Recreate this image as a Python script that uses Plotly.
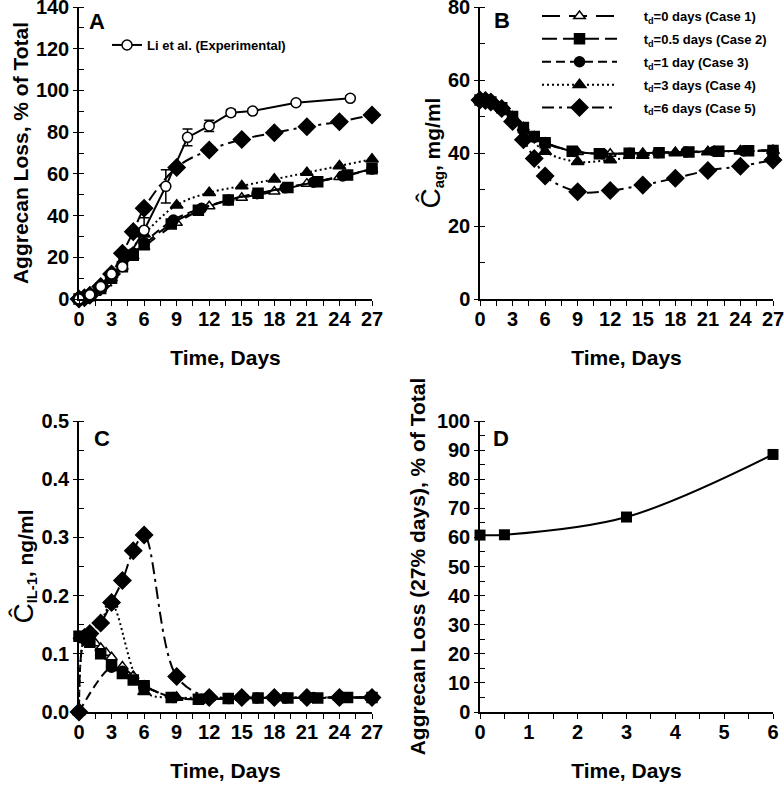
import plotly.graph_objects as go

# ---- Panel A: experimental data (Li et al.)
li_t = [0, 1, 2, 3, 4, 6, 8, 10, 12, 14, 16, 20, 25]
li_loss = [0, 2, 6, 12, 15.5, 33, 54, 77.5, 83, 89.3, 90.1, 94.1, 96.2]
li_err = [0.5, 0.8, 1, 1.5, 2, 6, 8, 4, 2.7, 1.5, 1, 1, 1]

# ---- model cases: time points
case1_t = [0, 0.5, 1, 1.5, 2, 2.5, 3, 4, 5, 6, 9, 12, 15, 18, 21, 24, 27]
case2_t = [0, 0.5, 1, 2, 3, 4, 5, 6, 8.5, 11, 13.75, 16.5, 19.25, 22, 24.75, 27]
case3_t = [0, 0.5, 1, 2, 3, 4, 5, 6, 8.7, 11.3, 13.8, 16.4, 19, 21.6, 24.3, 27]
case4_t = [0, 0.5, 1, 2, 3, 6, 9, 12, 15, 18, 21, 24, 27]
case5_t = [0, 0.5, 1, 2, 3, 4, 5, 6, 9, 12, 15, 18, 21, 24, 27]
case3_t_il = [0, 3, 4, 6, 8.7, 11.3, 13.8, 16.4, 19, 21.6, 24.3, 27]

# aggrecan loss, % of total (panel A)
case1_loss = [0, 0.5, 1.5, 3, 5, 7.5, 10, 15.5, 20.5, 25, 36.5, 44.5, 48.5, 51.5, 55.3, 58.5, 62]
case2_loss = [0, 0.5, 1.5, 5, 10, 15.5, 21, 26, 36, 42.5, 47.5, 50.7, 53.5, 56.2, 59.4, 62.5]
case3_loss = [0, 0.6, 1.7, 5.5, 11, 16.5, 22, 27, 37.9, 43.5, 47.5, 50.5, 53.3, 56, 59, 62.3]
case4_loss = [0, 0.6, 1.8, 6, 11.5, 31, 45, 51, 54.2, 57.4, 60.6, 63.8, 67]
case5_loss = [0, 0.6, 1.8, 6, 12, 21.9, 32.3, 43.5, 63.1, 71.4, 76.5, 79.7, 82.6, 85, 88.2]

# aggrecan concentration, mg/ml (panel B)
case1_ag = [54.5, 54.4, 54, 53.3, 52.4, 51.2, 50, 47, 44.5, 42.8, 40.3, 39.8, 40, 40.2, 40.4, 40.6, 40.7]
case2_ag = [54.5, 54.4, 54, 52.4, 50, 47, 44.5, 42.8, 40.5, 39.8, 39.9, 40.1, 40.3, 40.5, 40.6, 40.7]
case3_ag = [54.5, 54.4, 54, 52.3, 49.5, 46.5, 44.3, 42.7, 40.4, 39.8, 39.9, 40.1, 40.3, 40.5, 40.6, 40.7]
case4_ag = [54.5, 54.4, 54, 52.2, 49.5, 40.4, 37.6, 38.1, 39.3, 40, 40.3, 40.5, 40.6]
case5_ag = [54.5, 54.4, 54, 52.2, 48.6, 43.6, 38.5, 33.7, 29.4, 29.7, 31.2, 33.1, 35.2, 36.4, 38.1]

# IL-1 concentration, ng/ml (panel C)
case1_il = [0.13, 0.13, 0.125, 0.118, 0.11, 0.102, 0.094, 0.078, 0.062, 0.045, 0.025, 0.024, 0.024, 0.024, 0.025, 0.025, 0.025]
case2_il = [0.13, 0.128, 0.12, 0.1, 0.08, 0.066, 0.055, 0.045, 0.025, 0.022, 0.023, 0.024, 0.024, 0.024, 0.025, 0.025]
case3_il = [0, 0.077, 0.07, 0.045, 0.025, 0.022, 0.023, 0.024, 0.024, 0.025, 0.025, 0.025]
case4_il = [0, 0.128, 0.135, 0.155, 0.185, 0.035, 0.025, 0.025, 0.025, 0.025, 0.025, 0.025, 0.025]
case5_il = [0, 0.128, 0.135, 0.153, 0.188, 0.226, 0.277, 0.304, 0.061, 0.025, 0.025, 0.025, 0.025, 0.025, 0.025]

# ---- Panel D
d_td = [0, 0.5, 3, 6]
d_loss = [60.8, 60.9, 67.0, 88.5]

case_names = [
    "t<sub>d</sub>=0 days (Case 1)",
    "t<sub>d</sub>=0.5 days (Case 2)",
    "t<sub>d</sub>=1 day (Case 3)",
    "t<sub>d</sub>=3 days (Case 4)",
    "t<sub>d</sub>=6 days (Case 5)",
]

FONT = "Liberation Sans, Arial, sans-serif"
dashes = ["18px,9px", "15px,6px", "9px,5px", "2px,3px", "12px,5px,3px,5px"]
symbols = ["triangle-up", "square", "circle", "triangle-up", "diamond"]
fills = ["white", "black", "black", "black", "black"]
msizes = [10, 10, 10, 11, 13]

times = [case1_t, case2_t, case3_t, case4_t, case5_t]
times_il = [case1_t, case2_t, case3_t_il, case4_t, case5_t]
losses = [case1_loss, case2_loss, case3_loss, case4_loss, case5_loss]
ags = [case1_ag, case2_ag, case3_ag, case4_ag, case5_ag]
ils = [case1_il, case2_il, case3_il, case4_il, case5_il]

fig = go.Figure()

pad = "\u00a0" * 6


def add_case(i, x, y, xa, ya, show):
    fig.add_trace(go.Scatter(
        x=x, y=y, mode="lines+markers", name=pad + case_names[i],
        xaxis=xa, yaxis=ya, cliponaxis=False, legendgroup="c%d" % i,
        line=dict(color="black", width=2, dash=dashes[i], shape="spline"),
        marker=dict(symbol=symbols[i], size=msizes[i], color=fills[i],
                    line=dict(color="black", width=1.5)),
        showlegend=show, legend="legend2",
    ))


for i in range(5):
    add_case(i, times[i], losses[i], "x", "y", False)
for i in range(5):
    add_case(i, times[i], ags[i], "x2", "y2", True)
for i in range(5):
    add_case(i, times_il[i], ils[i], "x3", "y3", False)

fig.add_trace(go.Scatter(
    x=li_t, y=li_loss, mode="lines+markers", name="Li et al. (Experimental)",
    xaxis="x", yaxis="y", cliponaxis=False, legend="legend",
    line=dict(color="black", width=2),
    marker=dict(symbol="circle", size=10, color="white", line=dict(color="black", width=1.5)),
    error_y=dict(type="data", array=li_err, color="black", thickness=1.5, width=5),
))

fig.add_trace(go.Scatter(
    x=d_td, y=d_loss, mode="lines+markers", showlegend=False,
    xaxis="x4", yaxis="y4", cliponaxis=False,
    line=dict(color="black", width=2, shape="spline"),
    marker=dict(symbol="square", size=11, color="black"),
))

tickfont = dict(family=FONT, size=20, color="black", weight="bold")
titlefont = dict(family=FONT, size=21, color="black", weight="bold")


def xax(dom, rng, dt, anchor):
    return dict(domain=dom, range=rng, anchor=anchor, dtick=dt, tick0=0,
                showline=True, linecolor="black", linewidth=1.5,
                ticks="outside", ticklen=5, tickwidth=1, tickcolor="black",
                minor=dict(dtick=dt / 2, ticks="outside", ticklen=5, tickcolor="black"),
                showgrid=False, zeroline=False, tickfont=tickfont, ticklabelstandoff=-4,
                ticklabeloverflow="allow",
                title=dict(text="Time, Days", font=titlefont, standoff=22))


def yax(dom, rng, dt, anchor, title, fmt=None, standoff=2):
    d = dict(domain=dom, range=rng, anchor=anchor, dtick=dt, tick0=0,
             showline=True, linecolor="black", linewidth=1.5,
             ticks="outside", ticklen=4, tickwidth=1, tickcolor="black",
             minor=dict(dtick=dt / 2, ticks="inside", ticklen=5, tickcolor="black"),
             showgrid=False, zeroline=False, tickfont=tickfont, ticklabeloverflow="allow",
             title=dict(text=title, font=titlefont, standoff=standoff))
    if fmt:
        d["tickformat"] = fmt
    return d


left = [79 / 784, 372 / 784]
right = [480 / 784, 773 / 784]
top = [1 - 299 / 787, 1 - 7 / 787]
bot = [1 - 712 / 787, 1 - 421 / 787]

chat = '<span style="font-size:28px;font-weight:normal">Ĉ</span>'

fig.update_layout(
    width=784, height=787, margin=dict(l=0, r=0, t=0, b=0, autoexpand=False),
    paper_bgcolor="white", plot_bgcolor="white",
    font=dict(family=FONT, color="black"),
    xaxis=xax(left, [0, 27], 3, "y"),
    yaxis=yax(top, [0, 140], 20, "x", "Aggrecan Loss, % of Total"),
    xaxis2=xax(right, [0, 27], 3, "y2"),
    yaxis2=yax(top, [0, 80], 20, "x2", chat + "<sub>ag</sub>, mg/ml"),
    xaxis3=xax(left, [0, 27], 3, "y3"),
    yaxis3=yax(bot, [0, 0.5], 0.1, "x3", chat + "<sub>IL-1</sub>, ng/ml", fmt=".1f"),
    xaxis4=xax(right, [0, 6], 1, "y4"),
    yaxis4=yax(bot, [0, 100], 10, "x4", "Aggrecan Loss (27% days), % of Total", standoff=6),
    legend=dict(x=107 / 784, y=1 - 30 / 787, xanchor="left", yanchor="top",
                bgcolor="rgba(0,0,0,0)", font=dict(family=FONT, size=13, weight="bold")),
    legend2=dict(x=537 / 784, y=1 - 1 / 787, xanchor="left", yanchor="top",
                 bgcolor="rgba(0,0,0,0)", itemwidth=75, tracegroupgap=3,
                 font=dict(family=FONT, size=13, weight="bold")),
)

letters = [("A", "x", "y", 0.028, 1.0), ("B", "x2", "y2", 0.042, 1.005),
           ("C", "x3", "y3", 0.046, 0.988), ("D", "x4", "y4", 0.036, 0.988)]
for letter, xr, yr, lx, ly in letters:
    fig.add_annotation(text="<b>" + letter + "</b>", xref=xr + " domain", yref=yr + " domain",
                       x=lx, y=ly, xanchor="left", yanchor="top", showarrow=False,
                       font=dict(family=FONT, size=22, color="black"))

fig.write_html("out.html", config={"displayModeBar": False},
               post_script="document.body.style.margin='0';")
